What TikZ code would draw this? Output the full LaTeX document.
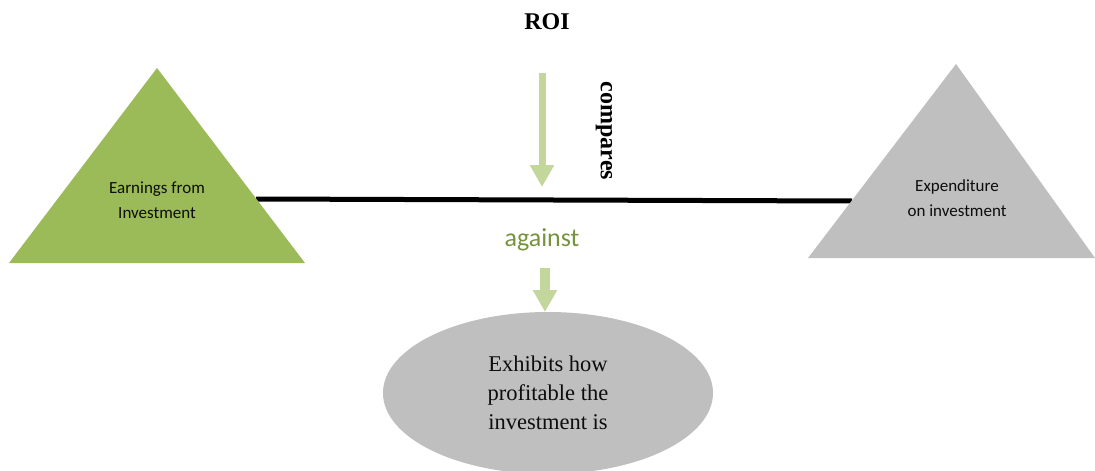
\documentclass[tikz,border=0pt]{standalone}
\usepackage{fontspec}
\setmainfont{Liberation Serif}
\newfontfamily\calib{Carlito}
\usetikzlibrary{shapes.geometric,arrows.meta}
\definecolor{leafgreen}{HTML}{9BBB59}
\definecolor{lightgreen}{HTML}{C3D69B}
\definecolor{olivetext}{HTML}{77933C}
\definecolor{softgray}{HTML}{BFBFBF}
\definecolor{inktext}{HTML}{0D0D0D}
\tikzset{
  tritext/.style={align=center,font=\calib\fontsize{17}{25}\selectfont,text=inktext,inner sep=0pt},
  bigarrow/.style={draw=lightgreen,line width=#1,-{Triangle[width=23pt,length=22pt]}},
  boldlabel/.style={font=\bfseries\fontsize{24}{28}\selectfont,inner sep=0pt},
}
\begin{document}
\begin{tikzpicture}[x=1pt,y=-1pt]
\useasboundingbox (0,0) rectangle (1095,471);
% balance beam (behind triangles)
\coordinate (beamL) at (256,199);
\coordinate (beamR) at (852,201);
\draw[line width=5pt,black] (beamL) -- (beamR);
% triangles
\fill[leafgreen] (157,68) -- (9,263) -- (305,263) -- cycle;
\fill[softgray] (956,64) -- (808,258) -- (1095,258) -- cycle;
\node[tritext] (earn) at (157,200) {Earnings from\\Investment};
\node[tritext] (expend) at (957,198) {Expenditure\\on investment};
% top labels
\node[boldlabel] (roi) at (547,22) {ROI};
\node[boldlabel,rotate=-90] (cmp) at (604,131) {compares};
% arrow 1
\coordinate (a1s) at (542,73);
\coordinate (a1e) at (542,187);
\draw[bigarrow=7pt] (a1s) -- (a1e);
% against
\node[font=\calib\fontsize{26}{30}\selectfont,text=olivetext,inner sep=0pt] (against) at (542,240) {against};
% ellipse
\node[ellipse,fill=softgray,minimum width=330pt,minimum height=162pt,inner sep=0pt,outer sep=0pt] (result) at (548,393) {};
\node[align=center,font=\fontsize{22.5}{29}\selectfont,text=inktext,inner sep=0pt] (resulttext) at (548,393)
      {Exhibits how\\profitable the\\investment is};
% arrow 2
\coordinate (a2s) at (545,268);
\draw[bigarrow=10pt] (a2s) -- (result.north -| a2s);
\end{tikzpicture}
\end{document}
